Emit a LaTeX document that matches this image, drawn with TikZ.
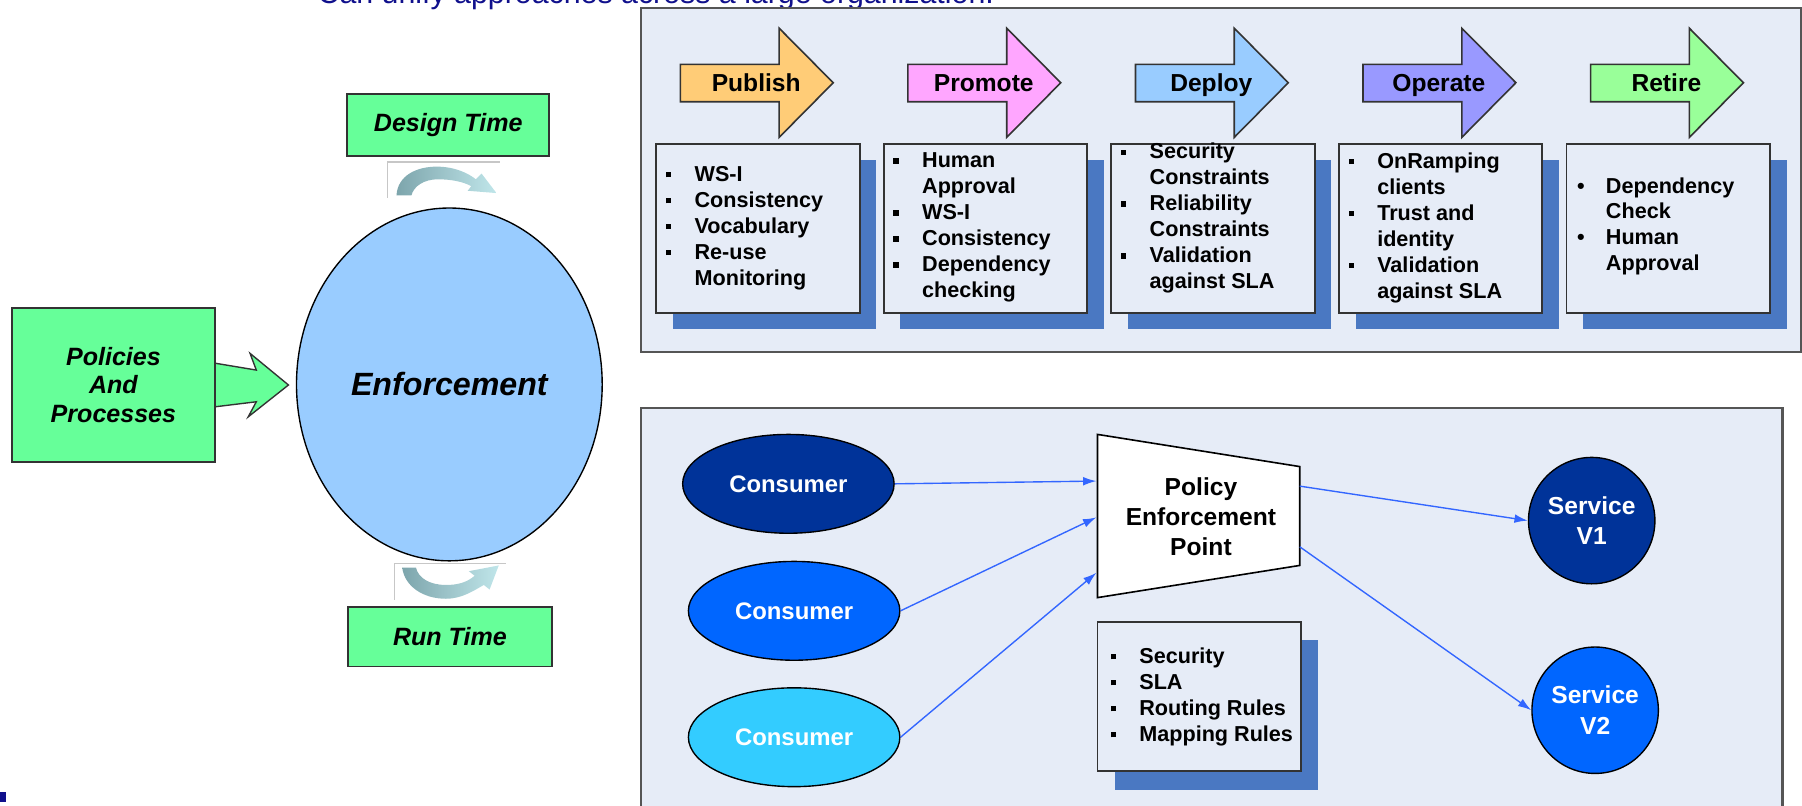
\documentclass[tikz,border=0pt]{standalone}
\usepackage{fontspec}
\setmainfont{Liberation Sans}
\usetikzlibrary{shapes.geometric,arrows.meta}
\definecolor{panelbg}{RGB}{230,236,247}
\definecolor{panelline}{RGB}{85,85,85}
\definecolor{shadowblue}{RGB}{74,120,194}
\definecolor{lgreen}{RGB}{102,255,153}
\definecolor{lblue}{RGB}{153,204,255}
\definecolor{cpub}{RGB}{255,204,119}
\definecolor{cprom}{RGB}{255,166,255}
\definecolor{cdep}{RGB}{153,204,255}
\definecolor{cop}{RGB}{153,153,255}
\definecolor{cret}{RGB}{153,255,153}
\definecolor{navy}{RGB}{0,51,153}
\definecolor{midblue}{RGB}{0,102,255}
\definecolor{skyblue}{RGB}{51,204,255}
\definecolor{connblue}{RGB}{51,102,255}
\definecolor{captionblue}{RGB}{16,16,140}
\definecolor{icondark}{RGB}{125,165,172}
\definecolor{iconlight}{RGB}{192,230,234}
\newcommand\mysq{\makebox[12.5pt][l]{\raisebox{1.8pt}{\rule{2.3pt}{2.3pt}}}}
\newcommand\mydot{\makebox[12.5pt][l]{\textbullet}}
\newcommand\myind{\hspace*{12.5pt}}
\tikzset{
  greenbox/.style={draw=black!80, line width=0.8pt, fill=lgreen, align=center, inner sep=0pt,
    font=\fontsize{10.9}{12.5}\selectfont\bfseries\itshape},
  stagearrow/.style={draw=black!80, line width=0.7pt},
  listbox/.style={draw=black!80, line width=0.8pt, fill=panelbg},
  shadowbox/.style={fill=shadowblue},
  listtext/.style={align=left, inner sep=0pt, anchor=west,
    font=\fontsize{9.4}{11.3}\selectfont\bfseries},
  stagelabel/.style={inner sep=0pt, anchor=base, font=\fontsize{10.7}{12}\selectfont\bfseries},
  consumer/.style={ellipse, draw=black, line width=0.6pt, minimum width=92pt, minimum height=43pt,
    inner sep=0pt, text=white, font=\fontsize{10.4}{12}\selectfont\bfseries},
  service/.style={circle, draw=black, line width=0.6pt, minimum size=55pt, inner sep=0pt,
    text=white, align=center, font=\fontsize{10.7}{13.2}\selectfont\bfseries},
  conn/.style={draw=connblue, line width=0.6pt, -{Latex[length=5.8pt,width=3.8pt]}},
  iconframe/.style={draw=black!22, line width=0.5pt},
}
\begin{document}
\begin{tikzpicture}[x=0.5pt,y=-0.5pt]
\useasboundingbox (0,0) rectangle (1568,701);
% caption (clipped at top, as in the reference)
\node[anchor=base west, inner sep=0pt, text=captionblue, font=\fontsize{13.2}{15}\selectfont] (cap) at (276,3) {Can unify approaches across a large organization.};
\fill[captionblue] (0,689) rectangle (5,698);
% ---------- left side ----------
\draw[fill=lgreen, draw=black!80, line width=0.6pt]
  (187,316) -- (223,322) -- (217.6,307.5) -- (251,335) -- (216,362.7) -- (223,349.6) -- (187,354) -- cycle;
\node[greenbox, minimum width=88.3pt, minimum height=67pt] (pol) at (98.7,335) {Policies\\And\\Processes};
\node[ellipse, draw=black, line width=0.6pt, fill=lblue, minimum width=133pt, minimum height=153.5pt, inner sep=0pt,
  font=\fontsize{14}{16}\selectfont\bfseries\itshape] (enf) at (391,334.5) {Enforcement};
\node[greenbox, minimum width=88pt, minimum height=27pt] (dt) at (390,108.8) {Design Time};
\node[greenbox, minimum width=88.5pt, minimum height=26pt] (rt) at (391.5,554) {Run Time};
% upper cycle icon
\draw[iconframe] (337,172) -- (337,141) -- (435,141);
\shade[left color=icondark, right color=iconlight]
  (345,170) .. controls (346,153) and (362,145) .. (380,145) .. controls (396,145) and (408,151) .. (414,156)
  -- (419,151) -- (432,168) -- (407,166) -- (410,162)
  .. controls (403,158) and (392,156) .. (381,156) .. controls (369,156) and (360,162) .. (358,170) -- cycle;
% lower cycle icon
\draw[iconframe] (343,522) -- (343,490) -- (440,490);
\shade[left color=icondark, right color=iconlight]
  (350,494) .. controls (352,510) and (368,521) .. (388,521) .. controls (402,521) and (412,514) .. (421,509)
  -- (426,513) -- (434,492) -- (408,497) -- (413,501)
  .. controls (406,507) and (398,509) .. (388,509) .. controls (374,509) and (364,503) .. (362,494) -- cycle;
% ---------- top panel ----------
\draw[fill=panelbg, draw=panelline, line width=1pt] (558,7) rectangle (1567,306);
\foreach \x/\c/\t/\n in {592/cpub/Publish/pub, 790/cprom/Promote/prom, 988/cdep/Deploy/dep, 1186/cop/Operate/op, 1384/cret/Retire/ret}{
  \draw[stagearrow, fill=\c] (\x,56) -- (\x+86,56) -- (\x+86,24.6) -- (\x+133,72) -- (\x+86,119.5) -- (\x+86,88.5) -- (\x,88.5) -- cycle;
  \node[stagelabel] (\n) at (\x+66,79.5) {\t};
  \fill[shadowbox] (\x-21+14.5,125+14.5) rectangle (\x+156+14.5,272+14.5);
  \draw[listbox] (\x-21,125) rectangle (\x+156,272);
}
\node[listtext] (l1) at (579,198.5) {\mysq WS-I\\\mysq Consistency\\\mysq Vocabulary\\\mysq Re-use\\\myind Monitoring};
\node[listtext] (l2) at (777,198) {\mysq Human\\\myind Approval\\\mysq WS-I\\\mysq Consistency\\\mysq Dependency\\\myind checking};
\node[listtext] (l3) at (975,190) {\mysq Security\\\myind Constraints\\\mysq Reliability\\\myind Constraints\\\mysq Validation\\\myind against SLA};
\node[listtext] (l4) at (1173,198) {\mysq OnRamping\\\myind clients\\\mysq Trust and\\\myind identity\\\mysq Validation\\\myind against SLA};
\node[listtext] (l5) at (1372,197) {\mydot Dependency\\\myind Check\\\mydot Human\\\myind Approval};
% ---------- bottom panel ----------
\draw[fill=panelbg, draw=panelline, line width=1pt] (558,355) rectangle (1551,720);
\node[consumer, fill=navy] (c1) at (686,421) {Consumer};
\node[consumer, fill=midblue] (c2) at (691,531.5) {Consumer};
\node[consumer, fill=skyblue] (c3) at (691,641.5) {Consumer};
\draw[fill=white, draw=black, line width=0.7pt] (955,378) -- (1131,406) -- (1131,492) -- (955,520) -- cycle;
\node[align=center, inner sep=0pt, font=\fontsize{10.7}{13}\selectfont\bfseries] (pep) at (1045,449.5) {Policy\\Enforcement\\Point};
\coordinate (pin1) at (954,418.6);
\coordinate (pin2) at (954,450.2);
\coordinate (pin3) at (954,498.4);
\coordinate (pout1) at (1131,423);
\coordinate (pout2) at (1131,475.8);
\node[service, fill=navy] (v1) at (1385,453) {Service\\V1};
\node[service, fill=midblue] (v2) at (1388,618) {Service\\V2};
\draw[conn] (c1.east) -- (pin1);
\draw[conn] (c2.east) -- (pin2);
\draw[conn] (c3.east) -- (pin3);
\draw[conn] (pout1) -- (v1.west);
\draw[conn] (pout2) -- (v2.west);
\fill[shadowbox] (970,557) rectangle (1147,687);
\draw[listbox] (955,541) rectangle (1132,671);
\node[listtext] (rules) at (966,606.5) {\mysq Security\\\mysq SLA\\\mysq Routing Rules\\\mysq Mapping Rules};
\end{tikzpicture}
\end{document}
